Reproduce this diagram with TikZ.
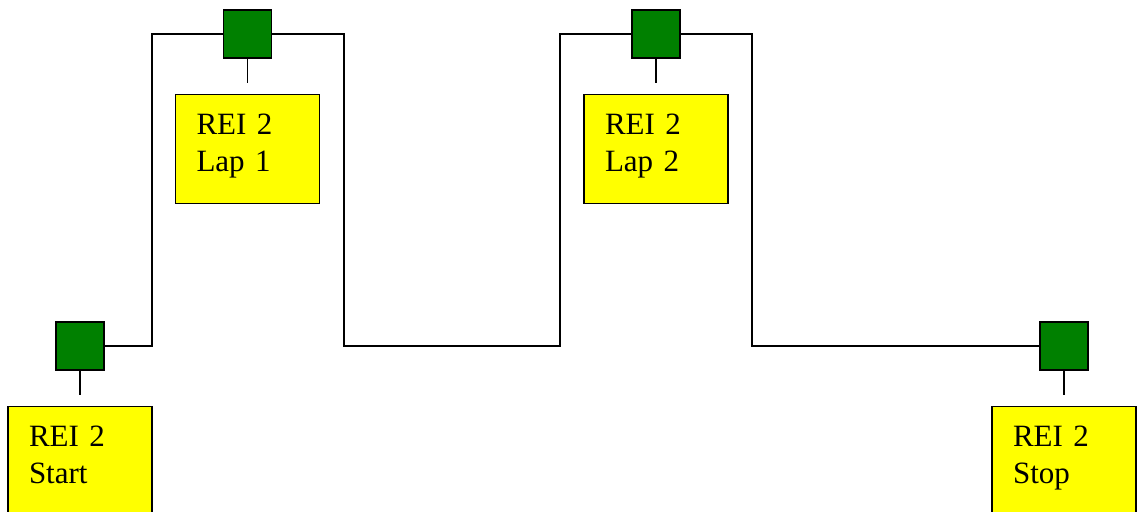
\documentclass[tikz,border=0pt]{standalone}
\usepackage{fontspec}
\setmainfont{Liberation Serif}
\usetikzlibrary{positioning}
\definecolor{maugoc}{RGB}{0,128,0}
\definecolor{mauhop}{RGB}{255,255,0}

\begin{document}
\begin{tikzpicture}[x=0.5pt,y=-0.5pt,line width=0.8pt,
		goc/.style={draw,fill=maugoc,minimum size=24pt,inner sep=0pt},
		hop/.style={draw,fill=mauhop,minimum width=72pt,minimum height=54.5pt,
			text width=51pt,inner xsep=10.5pt,align=left,text height=10.3pt,text depth=24.8pt,
			font=\fontsize{15.5}{18.5}\selectfont}]
			\useasboundingbox (0,0) rectangle (1138,512);
			\node[goc] (sqStart) at (80,346) {};
			\node[goc] (sqLapA) at (247.5,34) {};
			\node[goc] (sqLapB) at (656,34) {};
			\node[goc] (sqStop) at (1064,346) {};
			\node[hop,below=17.5pt of sqStart] (boxStart) {REI 2\\Start};
			\node[hop,below=17.5pt of sqLapA] (boxLapA) {REI 2\\Lap 1};
			\node[hop,below=17.5pt of sqLapB] (boxLapB) {REI 2\\Lap 2};
			\node[hop,below=17.5pt of sqStop] (boxStop) {REI 2\\Stop};
			\coordinate (riseA) at (152,34);
			\coordinate (dipA) at (344,346);
			\coordinate (riseB) at (560,34);
			\coordinate (dipB) at (752,346);
			\foreach \n in {Start,LapA,LapB,Stop}{
				\coordinate[below=12pt of sq\n] (tip\n);
				\draw (sq\n) -- (tip\n);
			}
			\draw (sqStart) -| (riseA) -- (sqLapA);
			\draw (sqLapA) -| (dipA) -| (riseB) -- (sqLapB);
			\draw (sqLapB) -| (dipB) -- (sqStop);
		\end{tikzpicture}
\end{document}
